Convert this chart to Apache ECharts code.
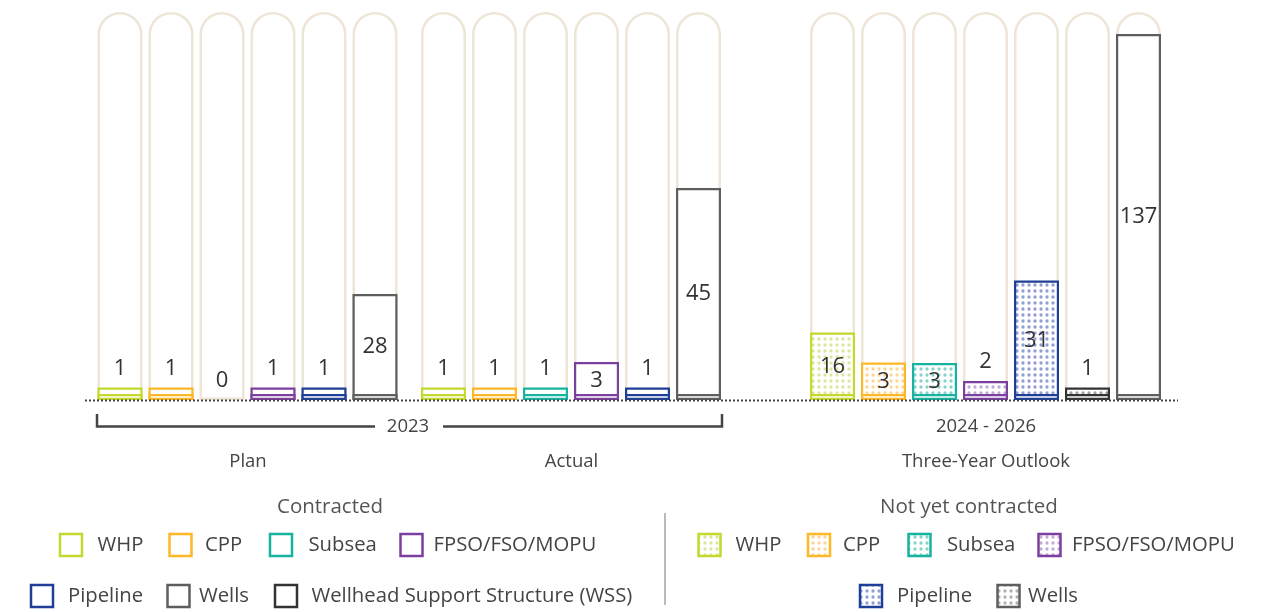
<!DOCTYPE html>
<html>
<head>
<meta charset="utf-8">
<title>Contract awards</title>
<script src="https://cdn.jsdelivr.net/npm/echarts@6/dist/echarts.min.js"></script>
<style>
  html, body { margin: 0; padding: 0; background: #fff; }
  #chart { width: 1268px; height: 612px; }
</style>
</head>
<body>
<div id="chart"></div>
<script>
// categories
const planCats = ['WHP', 'CPP', 'Subsea', 'FPSO/FSO/MOPU', 'Pipeline', 'Wells'];
const actualCats = ['WHP', 'CPP', 'Subsea', 'FPSO/FSO/MOPU', 'Pipeline', 'Wells'];
const outlookCats = ['WHP', 'CPP', 'Subsea', 'FPSO/FSO/MOPU', 'Pipeline', 'Wellhead Support Structure (WSS)', 'Wells'];

// numbers printed on the bars
const planCounts = [1, 1, 0, 1, 1, 28];
const actualCounts = [1, 1, 1, 3, 1, 45];
const outlookCounts = [16, 3, 3, 2, 31, 1, 137];

// drawn bar heights (the picture is not to a linear scale)
const planHeights = [12.5, 12.5, 0, 12.5, 12.5, 106];
const actualHeights = [12.5, 12.5, 12.5, 38, 12.5, 212];
const outlookHeights = [67.5, 37.5, 37, 19, 119.5, 12.5, 366];

// not yet contracted = dotted fill
const outlookDotted = [true, true, true, true, true, true, false];

const colors = {
  'WHP': '#c4d82e',
  'CPP': '#fdb827',
  'Subsea': '#17b3a0',
  'FPSO/FSO/MOPU': '#7b3f9e',
  'Pipeline': '#1f3e98',
  'Wells': '#5e5e5e',
  'Wellhead Support Structure (WSS)': '#333333'
};
const dotColors = {
  'WHP': '#dbe79c',
  'CPP': '#fdd494',
  'Subsea': '#86d4ca',
  'FPSO/FSO/MOPU': '#c1aad4',
  'Pipeline': '#909ed2',
  'Wells': '#b0b0b0',
  'Wellhead Support Structure (WSS)': '#a0a0a0'
};

const FONT = '"Open Sans", "Noto Sans", sans-serif';
const TOP = 388;      // y axis max (arch height)
const BASE = 6;       // the little foot segment at the bottom of each bar
const BAR_W = 45;

function dotPattern(c) {
  const cv = document.createElement('canvas');
  cv.width = 6; cv.height = 6;
  const ctx = cv.getContext('2d');
  ctx.fillStyle = '#fff';
  ctx.fillRect(0, 0, 6, 6);
  ctx.fillStyle = c;
  ctx.beginPath();
  ctx.arc(3, 3, 1.65, 0, Math.PI * 2);
  ctx.fill();
  return { image: cv, repeat: 'repeat' };
}

function buildSeries(idx, cats, heights, counts, dotted) {
  const arch = {
    type: 'bar', xAxisIndex: idx, yAxisIndex: idx, silent: true, z: 1,
    barWidth: BAR_W, barGap: '-100%',
    itemStyle: { color: '#fff', borderColor: '#eee5d7', borderWidth: 2.5, borderRadius: [22.5, 22.5, 0, 0] },
    data: cats.map(() => TOP)
  };
  const full = {
    type: 'bar', xAxisIndex: idx, yAxisIndex: idx, z: 3,
    barWidth: BAR_W, barGap: '-100%',
    data: heights.map((h, i) => {
      const c = colors[cats[i]];
      const isDot = dotted && dotted[i];
      return {
        value: h,
        itemStyle: {
          color: isDot ? dotPattern(dotColors[cats[i]]) : '#fff',
          borderColor: c,
          borderWidth: h > 0 ? 2.2 : 0
        },
        label: {
          show: true,
          position: h >= 30 ? 'inside' : 'top',
          distance: 8,
          formatter: String(counts[i]),
          fontFamily: FONT, fontSize: 22, color: '#333'
        }
      };
    })
  };
  const foot = {
    type: 'bar', xAxisIndex: idx, yAxisIndex: idx, z: 4, silent: true,
    barWidth: BAR_W, barGap: '-100%',
    data: heights.map((h, i) => ({
      value: h > 0 ? BASE : 0,
      itemStyle: { color: '#fff', borderColor: colors[cats[i]], borderWidth: h > 0 ? 2.2 : 0 }
    }))
  };
  return [arch, full, foot];
}

// legend layout
const legendContracted = [
  { name: 'WHP', box: 59, text: 97.5, y: 545 },
  { name: 'CPP', box: 168.5, text: 205, y: 545 },
  { name: 'Subsea', box: 269, text: 308.5, y: 545 },
  { name: 'FPSO/FSO/MOPU', box: 399.5, text: 433.5, y: 545 },
  { name: 'Pipeline', box: 30, text: 68, y: 596 },
  { name: 'Wells', box: 166.5, text: 199, y: 596 },
  { name: 'Wellhead Support Structure (WSS)', box: 274, text: 311.5, y: 596 }
];
const legendOpen = [
  { name: 'WHP', box: 697.5, text: 735.5, y: 545 },
  { name: 'CPP', box: 807, text: 843, y: 545 },
  { name: 'Subsea', box: 907.5, text: 947, y: 545 },
  { name: 'FPSO/FSO/MOPU', box: 1037.5, text: 1072, y: 545 },
  { name: 'Pipeline', box: 859, text: 897, y: 596 },
  { name: 'Wells', box: 996.5, text: 1028, y: 596 }
];

function legendItems(list, dotted) {
  const out = [];
  list.forEach(it => {
    out.push({
      type: 'rect',
      shape: { x: it.box + 1, y: it.y - 11, width: 22, height: 22 },
      style: { fill: dotted ? dotPattern(dotColors[it.name]) : '#fff', stroke: colors[it.name], lineWidth: 2.5 }
    });
    out.push({
      type: 'text', x: it.text, y: it.y,
      style: { text: it.name, fontFamily: FONT, fontSize: 20.3, fill: '#444', verticalAlign: 'middle', align: 'left' }
    });
  });
  return out;
}

const chart = echarts.init(document.getElementById('chart'));

const grids = [
  { left: 94.5, width: 306, top: 12, height: TOP },
  { left: 418, width: 306, top: 12, height: TOP },
  { left: 807, width: 357, top: 12, height: TOP }
];
const allCats = [planCats, actualCats, outlookCats];

const smallText = (x, y, t) => ({
  type: 'text', x: x, y: y,
  style: { text: t, fontFamily: FONT, fontSize: 18.5, fill: '#444', align: 'center', verticalAlign: 'middle' }
});

chart.setOption({
  animation: false,
  grid: grids,
  xAxis: allCats.map((c, i) => ({
    type: 'category', gridIndex: i, data: c,
    axisLine: { show: false }, axisTick: { show: false }, axisLabel: { show: false }
  })),
  yAxis: allCats.map((c, i) => ({
    type: 'value', gridIndex: i, min: 0, max: TOP, show: false
  })),
  series: [
    ...buildSeries(0, planCats, planHeights, planCounts, null),
    ...buildSeries(1, actualCats, actualHeights, actualCounts, null),
    ...buildSeries(2, outlookCats, outlookHeights, outlookCounts, outlookDotted)
  ],
  graphic: [
    // dotted baseline
    { type: 'line', z: 100, shape: { x1: 85, y1: 400.5, x2: 1178, y2: 400.5 },
      style: { stroke: '#444', lineWidth: 2, lineDash: [2, 2] } },
    // 2023 bracket
    { type: 'polyline', shape: { points: [[97, 414], [97, 426.5], [375, 426.5]] },
      style: { stroke: '#444', lineWidth: 2.5, fill: null } },
    { type: 'polyline', shape: { points: [[443, 426.5], [722, 426.5], [722, 414]] },
      style: { stroke: '#444', lineWidth: 2.5, fill: null } },
    smallText(408, 427, '2023'),
    smallText(986, 427, '2024 - 2026'),
    smallText(248, 462, 'Plan'),
    smallText(571.5, 462, 'Actual'),
    smallText(986, 462, 'Three-Year Outlook'),
    // legend titles + separator
    { type: 'text', x: 330, y: 507, style: { text: 'Contracted', fontFamily: FONT, fontSize: 20.5, fill: '#555', align: 'center', verticalAlign: 'middle' } },
    { type: 'text', x: 969, y: 507, style: { text: 'Not yet contracted', fontFamily: FONT, fontSize: 20.5, fill: '#555', align: 'center', verticalAlign: 'middle' } },
    { type: 'line', shape: { x1: 665, y1: 513, x2: 665, y2: 605 }, style: { stroke: '#777', lineWidth: 1 } },
    ...legendItems(legendContracted, false),
    ...legendItems(legendOpen, true)
  ]
});

window.addEventListener('resize', () => chart.resize());
</script>
</body>
</html>
